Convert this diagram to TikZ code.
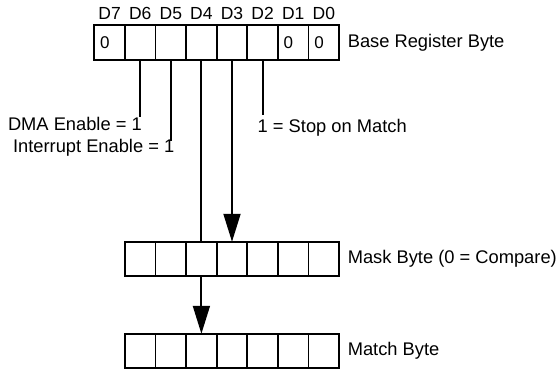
\documentclass[tikz,border=0pt]{standalone}
\usepackage{fontspec}
\setmainfont{Liberation Sans}
\usetikzlibrary{arrows.meta,calc}
\tikzset{
  cell/.style={draw, line width=1.9pt, minimum width=30.6pt, minimum height=34.5pt, inner sep=0pt, outer sep=0pt, font=\fontsize{17}{17}\selectfont},
  zcell/.style={cell, text width=19pt, align=left},
  bitlbl/.style={inner sep=0pt, anchor=base, font=\fontsize{17.5}{17.5}\selectfont},
  sidelbl/.style={inner sep=0pt, font=\fontsize{18.3}{18.3}\selectfont},
  wire/.style={line width=1.9pt},
  arrowwire/.style={line width=1.9pt, -{Triangle[length=28pt,width=17pt]}}
}
\begin{document}
\begin{tikzpicture}[x=1pt,y=-1pt]
\useasboundingbox (0,0) rectangle (559,369);
% register cells
\node[zcell] (r7) at (109.6,42.5) {0};
\node[cell] (r6) at (140.2,42.5) {};
\node[cell] (r5) at (170.8,42.5) {};
\node[cell] (r4) at (201.4,42.5) {};
\node[cell] (r3) at (232.0,42.5) {};
\node[cell] (r2) at (262.6,42.5) {};
\node[zcell] (r1) at (293.2,42.5) {0};
\node[zcell] (r0) at (323.8,42.5) {0};
% bit labels
\foreach \b in {7,...,0}{
  \node[bitlbl] (l\b) at ([yshift=5.5pt]r\b.north) {D\b};
}
\node[sidelbl, anchor=west] (base) at ([xshift=8.5pt]r0.east) {Base Register Byte};
% mask byte
\foreach \b in {6,...,0}{
  \node[cell] (m\b) at ($(r\b.center)+(0,216.5)$) {};
}
\node[sidelbl, anchor=west] (mask) at ([xshift=8.5pt]m0.east) {Mask Byte (0 = Compare)};
% match byte
\foreach \b in {6,...,0}{
  \node[cell] (t\b) at ($(r\b.center)+(0,308.5)$) {};
}
\node[sidelbl, anchor=west] (match) at ([xshift=8.5pt]t0.east) {Match Byte};
% wires
\coordinate (dmaEnd) at (r6.south |- 0,117);
\coordinate (intEnd) at (r5.south |- 0,141);
\coordinate (stopEnd) at (r2.south |- 0,115);
\draw[wire] (r6.south) -- (dmaEnd);
\draw[wire] (r5.south) -- (intEnd);
\draw[wire] (r2.south) -- (stopEnd);
\draw[wire] (r4.south) -- (m4.north);
\draw[arrowwire] (r3.south) -- (m3.north);
\draw[arrowwire] (m4.south) -- (t4.north);
\node[sidelbl, anchor=east] (dma) at (142,123.5) {DMA Enable = 1};
\node[sidelbl, anchor=east] (int) at (174.5,147.5) {Interrupt Enable = 1};
\node[sidelbl, anchor=west] (stop) at (257.5,127.5) {1 = Stop on Match};
\end{tikzpicture}
\end{document}
